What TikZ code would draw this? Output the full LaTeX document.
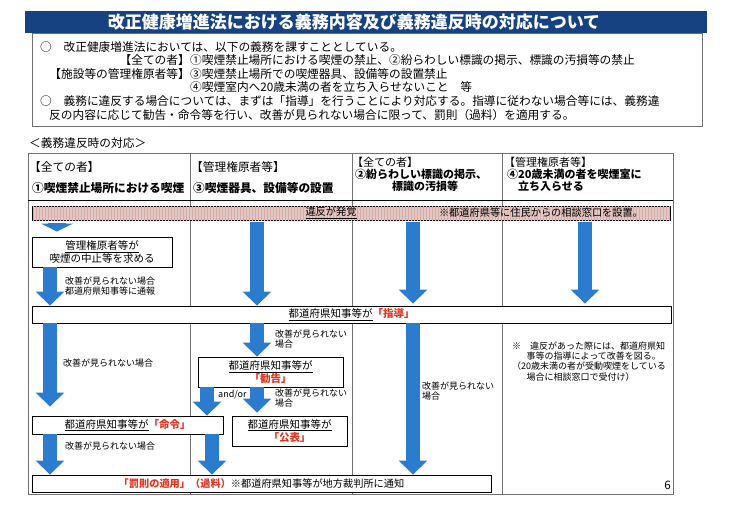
\documentclass[tikz,border=0pt]{standalone}
\usepackage{fontspec}
\setmainfont{Noto Sans CJK JP}
\usepackage{xcolor}
\usepackage{tikz}
\usetikzlibrary{arrows.meta,positioning,patterns}
\definecolor{TitleBlue}{RGB}{22,66,130}
\definecolor{FlowBlue}{RGB}{43,123,206}
\definecolor{AlertRed}{RGB}{226,52,32}
\definecolor{BarPink}{RGB}{228,198,194}
\definecolor{BarStripe}{RGB}{212,172,168}
\definecolor{RuleGray}{RGB}{115,115,115}
\newcommand\fsTitle{\fontsize{17pt}{20pt}\selectfont\bfseries}
\newcommand\fsBody{\fontsize{11.7pt}{13.5pt}\selectfont}
\newcommand\fsHead{\fontsize{11pt}{11.8pt}\selectfont}
\newcommand\fsBox{\fontsize{10.5pt}{13pt}\selectfont}
\newcommand\fsSmall{\fontsize{9pt}{10.2pt}\selectfont}
\newcommand\kw[1]{\textcolor{AlertRed}{\bfseries #1}}

\begin{document}
\begin{tikzpicture}[
x=1pt,y=-1pt,
txt/.style={inner sep=0pt,anchor=west,font=\fsBody},
head/.style={inner sep=0pt,anchor=west,font=\fsHead},
box/.style={
draw,
line width=0.9pt,
fill=white,
inner sep=0pt,
align=center,
font=\fsBox
},
lbl/.style={inner sep=0pt,anchor=west,align=left,font=\fsSmall},
flow/.style={FlowBlue,line width=14pt,-{Triangle[width=28pt,length=14pt]}},
flowshort/.style={FlowBlue,line width=18pt,-{Triangle[width=32pt,length=8pt]}},
rule/.style={RuleGray,line width=0.7pt}
]
\useasboundingbox[fill=white] (0,0) rectangle (730,516);

\fill[TitleBlue] (25,11) rectangle (707,33);
\node[inner sep=0pt,text=white,font=\fsTitle] (title) at (354,22) {改正健康増進法における義務内容及び義務違反時の対応について};
\draw[rule] (32,33) rectangle (702,126);

\node[txt] (intro1) at (40,47) {○　改正健康増進法においては、以下の義務を課すこととしている。};
\node[txt,anchor=east] (all2) at (190,60.5) {【全ての者】};
\node[txt,right=0pt of all2] (duty1) {①喫煙禁止場所における喫煙の禁止、②紛らわしい標識の掲示、標識の汚損等の禁止};
\node[txt,anchor=east] (mgr3) at (190,74) {【施設等の管理権原者等】};
\node[txt,right=0pt of mgr3] (duty3) {③喫煙禁止場所での喫煙器具、設備等の設置禁止};
\node[txt] (duty4) at (190,87.5) {④喫煙室内へ20歳未満の者を立ち入らせないこと　等};
\node[txt] (intro2) at (40,101.5) {○　義務に違反する場合については、まずは「指導」を行うことにより対応する。指導に従わない場合等には、義務違};
\node[txt] (intro3) at (49,115) {反の内容に応じて勧告・命令等を行い、改善が見られない場合に限って、罰則（過料）を適用する。};

\node[txt] (heading) at (29,143) {＜義務違反時の対応＞};

\draw[rule] (28,153) rectangle (673,494);
\foreach \x in {190,352,502}
\draw[rule] (\x,153) -- (\x,494);
\draw[line width=0.8pt] (28,200) -- (673,200);

\node[txt] (hA1) at (29,167) {【全ての者】};
\node[txt] (hA2) at (32,188) {\bfseries ①喫煙禁止場所における喫煙};
\node[txt] (hB1) at (191,167) {【管理権原者等】};
\node[txt] (hB2) at (193,188) {\bfseries ③喫煙器具、設備等の設置};
\node[head] (hC1) at (352,162) {【全ての者】};
\node[head] (hC2) at (355,174) {\bfseries ②紛らわしい標識の掲示、};
\node[head,anchor=center] (hC3) at (425,186) {\bfseries 標識の汚損等};
\node[head] (hD1) at (504,162) {【管理権原者等】};
\node[head] (hD2) at (507,174) {\bfseries ④20歳未満の者を喫煙室に};
\node[head] (hD3) at (518,186) {\bfseries 立ち入らせる};

\node[draw,line width=0.8pt,fill=BarPink,postaction={pattern=vertical lines,pattern color=BarStripe},
minimum width=638pt,minimum height=14pt,inner sep=0pt] (bar) at (351,213) {};
\node[inner sep=0pt,font=\fontsize{10.2pt}{12pt}\selectfont] (found) at (331,213) {\underline{違反が発覚}};
\node[inner sep=0pt,font=\fontsize{10.2pt}{12pt}\selectfont] (desk) at (541,213) {※都道府県等に住民からの相談窓口を設置。};

\node[box,minimum width=140pt,minimum height=30pt] (stop) at (102,252) {\underline{管理権原者等が}\\喫煙の中止等を求める};
\node[box,minimum width=639pt,minimum height=17pt] (guide) at (351.5,314.5) {\underline{都道府県知事等が}\kw{「指導」}};
\node[box,minimum width=145pt,minimum height=30pt] (advise) at (270.5,372) {\underline{都道府県知事等が}\\\kw{「勧告」}};
\node[box,minimum width=191pt,minimum height=18pt] (order) at (127.5,425) {\underline{都道府県知事等が}\kw{「命令」}};
\node[box,minimum width=115pt,minimum height=30pt] (publish) at (289.5,431) {\underline{都道府県知事等が}\\\kw{「公表」}};
\node[box,minimum width=459pt,minimum height=17pt,font=\fontsize{10.2pt}{12pt}\selectfont] (penalty) at (261.5,483.5) {\kw{「罰則の適用」（過料）}※都道府県知事等が地方裁判所に通知};

\coordinate (xa) at (50,0);
\coordinate (xs) at (57,0);
\coordinate (xl) at (207,0);
\coordinate (xm) at (212,0);
\coordinate (xb) at (257,0);
\coordinate (xc) at (413,0);
\coordinate (xd) at (585,0);

\draw[flowshort,shorten <=3pt,shorten >=5pt] (bar.south -| xs) -- (stop.north -| xs);
\draw[flow] (stop.south -| xa) -- (guide.north -| xa);
\draw[flow,shorten <=1.5pt] (bar.south -| xb) -- (guide.north -| xb);
\draw[flow,shorten <=1.5pt,shorten >=2pt] (bar.south -| xc) -- (guide.north -| xc);
\draw[flow,shorten <=1.5pt,shorten >=2pt] (bar.south -| xd) -- (guide.north -| xd);
\draw[flow,shorten >=9pt] (guide.south -| xa) -- (order.north -| xa);
\draw[flow] (guide.south -| xb) -- (advise.north -| xb);
\draw[flow] (advise.south -| xl) -- (order.north -| xl);
\draw[flow,shorten >=3pt] (advise.south -| xb) -- (publish.north -| xb);
\draw[flow] (order.south -| xa) -- (penalty.north -| xa);
\draw[flow] (order.south -| xm) -- (penalty.north -| xm);
\draw[flow] (guide.south -| xc) -- (penalty.north -| xc);

\node[lbl] (noteA) at (65,286) {改善が見られない場合\\都道府県知事等に通報};
\node[lbl] (noteB) at (63,363) {改善が見られない場合};
\node[lbl] (noteC) at (275,339) {改善が見られない\\場合};
\node[lbl] (andor) at (218,395) {and/or};
\node[lbl] (noteD) at (275,398) {改善が見られない\\場合};
\node[lbl] (noteE) at (65,446) {改善が見られない場合};
\node[lbl] (noteF) at (422,391) {改善が見られない\\場合};
\node[lbl] (remark) at (512,361.5) {※　違反があった際には、都道府県知\\\hspace*{1.6em}事等の指導によって改善を図る。\\（20歳未満の者が受動喫煙をしている\\\hspace*{1.6em}場合に相談窓口で受付け）};

\node[inner sep=0pt,anchor=east,font=\fsBody] (page) at (671,485) {6};
\end{tikzpicture}
\end{document}
